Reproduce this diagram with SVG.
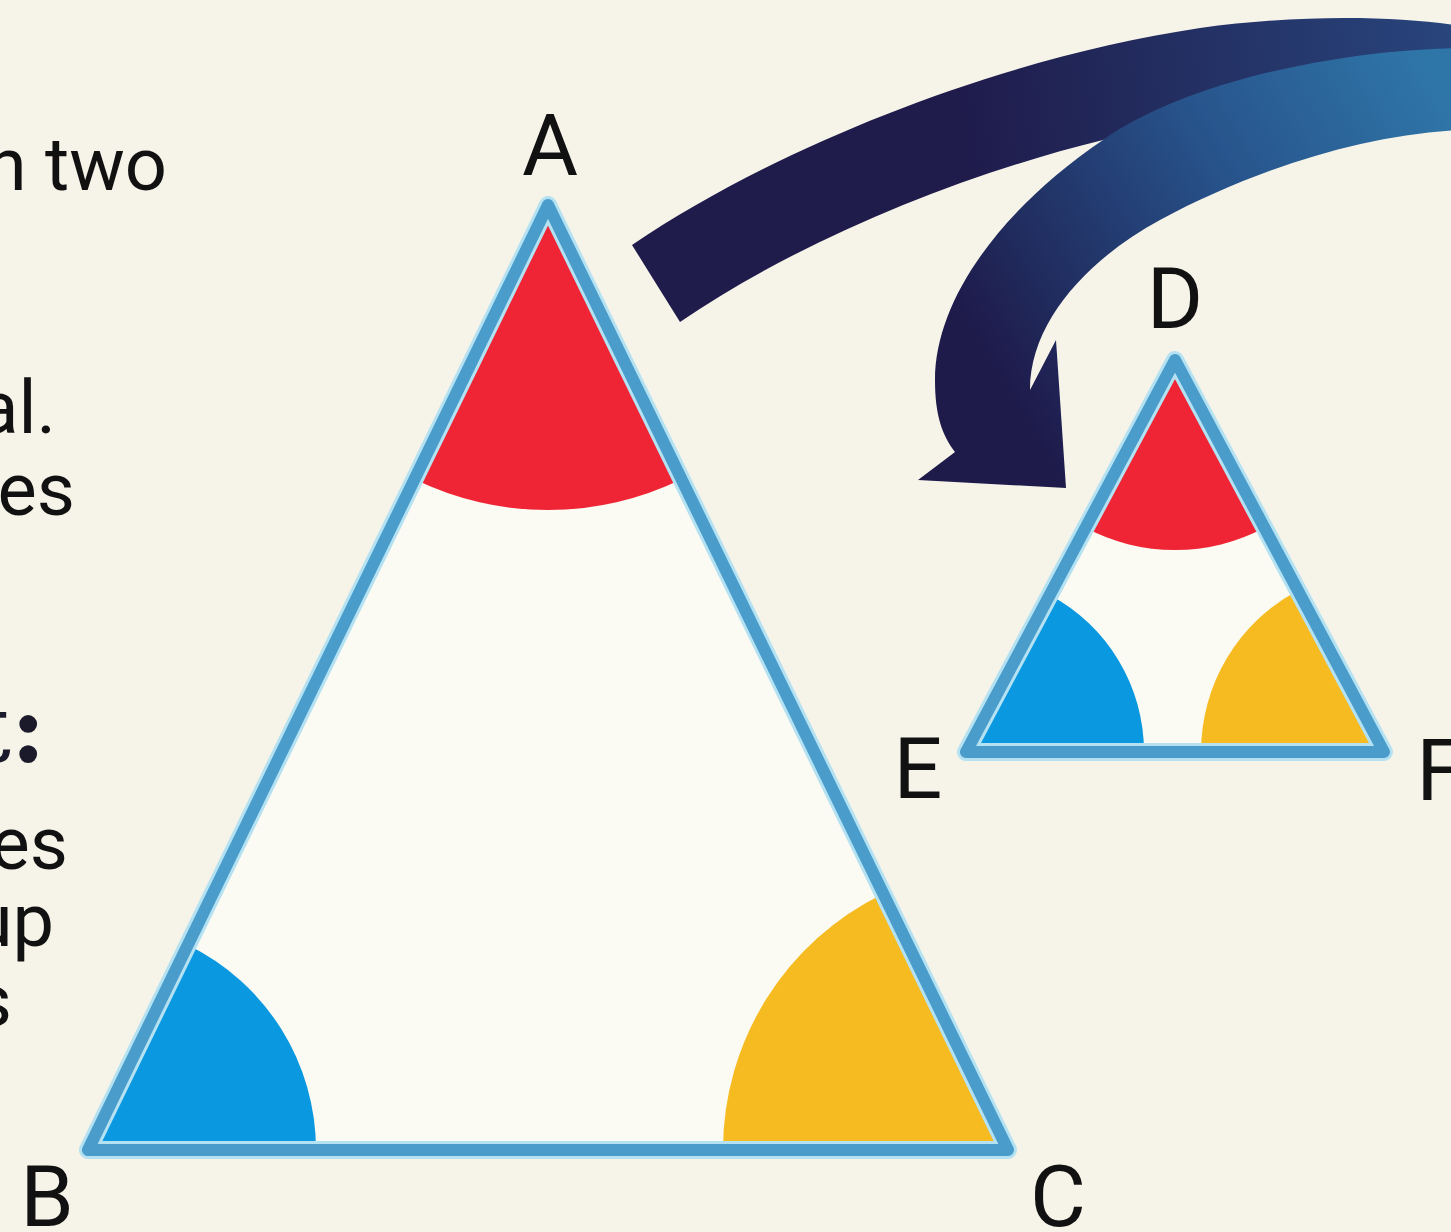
<svg xmlns="http://www.w3.org/2000/svg" width="1451" height="1232" viewBox="0 0 1451 1232">
  <style>
    .txt { font-family: Roboto, "Liberation Sans", sans-serif; fill: #111111; }
    .body { font-size: 74px; }
    .lbl { font-size: 86px; text-anchor: middle; }
    .ser { font-family: "DejaVu Serif", "Liberation Serif", serif; font-size: 96px; font-weight: bold; fill: #1a1a2a; }
    .tri-glow { fill: none; stroke: #b4e2f2; stroke-width: 18; stroke-linejoin: round; }
    .tri { fill: none; stroke: #4a9ccb; stroke-width: 12; stroke-linejoin: round; }
    .tri-fill { fill: #fbfaf3; }
    .red { fill: #ef2535; }
    .blue { fill: #0a98e0; }
    .yellow { fill: #f7bb22; }
  </style>
  <defs>
    <linearGradient id="g1" gradientUnits="userSpaceOnUse" x1="950" y1="100" x2="1451" y2="30">
      <stop offset="0" stop-color="#1f1b4b"/>
      <stop offset="1" stop-color="#28457c"/>
    </linearGradient>
    <linearGradient id="g2" gradientUnits="userSpaceOnUse" x1="1430" y1="70" x2="980" y2="340">
      <stop offset="0" stop-color="#2f76a8"/>
      <stop offset="0.45" stop-color="#27528a"/>
      <stop offset="1" stop-color="#1e1b4b"/>
    </linearGradient>
  </defs>
  <rect width="1451" height="1232" fill="#f6f3e9"/>

  <g id="text-left">
    <text class="txt body" x="167" y="190" text-anchor="end">n two</text>
    <text class="txt body" x="56" y="433" text-anchor="end">al.</text>
    <text class="txt body" x="75" y="515" text-anchor="end">es</text>
    <text class="ser" x="46" y="762" text-anchor="end">t:</text>
    <text class="txt body" x="68" y="869" text-anchor="end">es</text>
    <text class="txt body" x="54" y="946" text-anchor="end">up</text>
    <text class="txt body" x="12" y="1026" text-anchor="end">s</text>
  </g>

  <g id="connectors">
    <path id="arrow1" fill="url(#g1)" d="M 632 245 C 780 145 1000 58 1200 28 C 1300 14 1400 16 1460 26 L 1460 100 L 1200 110 L 1103 140 C 960 175 800 240 680 322 Z"/>
    <path id="arrow2" fill="url(#g2)" d="M 1460 48 C 1330 50 1180 85 1103 140 C 1000 210 935 300 935 380 C 935 415 942 435 955 452 L 918 480 L 1066 488 L 1056 340 L 1030 390 C 1030 320 1090 258 1160 220 C 1251 171 1360 135 1460 130 Z"/>
  </g>

  <g id="triangle-ABC">
    <polygon class="tri-fill" points="548,205 88,1150 1008,1150"/>
    <path class="red" d="M 548 205 L 414.5 479.3 A 305 305 0 0 0 681.5 479.3 Z"/>
    <path class="blue" d="M 88 1150 L 187.8 945 A 228 228 0 0 1 316 1150 Z"/>
    <path class="yellow" d="M 1008 1150 L 723 1150 A 285 285 0 0 1 883.3 893.7 Z"/>
    <polygon class="tri-glow" points="548,205 88,1150 1008,1150"/>
    <polygon class="tri" points="548,205 88,1150 1008,1150"/>
  </g>

  <g id="triangle-DEF">
    <polygon class="tri-fill" points="1175,360 966,752 1384,752"/>
    <path class="red" d="M 1175 360 L 1085.6 527.7 A 190 190 0 0 0 1264.4 527.7 Z"/>
    <path class="blue" d="M 966 752 L 1049.7 594.9 A 178 178 0 0 1 1144 752 Z"/>
    <path class="yellow" d="M 1384 752 L 1201 752 A 183 183 0 0 1 1297.9 590.5 Z"/>
    <polygon class="tri-glow" points="1175,360 966,752 1384,752"/>
    <polygon class="tri" points="1175,360 966,752 1384,752"/>
  </g>

  <g id="labels">
    <text class="txt lbl" x="550" y="175">A</text>
    <text class="txt lbl" x="47" y="1226">B</text>
    <text class="txt lbl" x="1058" y="1226">C</text>
    <text class="txt lbl" x="1175" y="328">D</text>
    <text class="txt lbl" x="918" y="798">E</text>
    <text class="txt lbl" x="1440" y="800">F</text>
  </g>
</svg>
